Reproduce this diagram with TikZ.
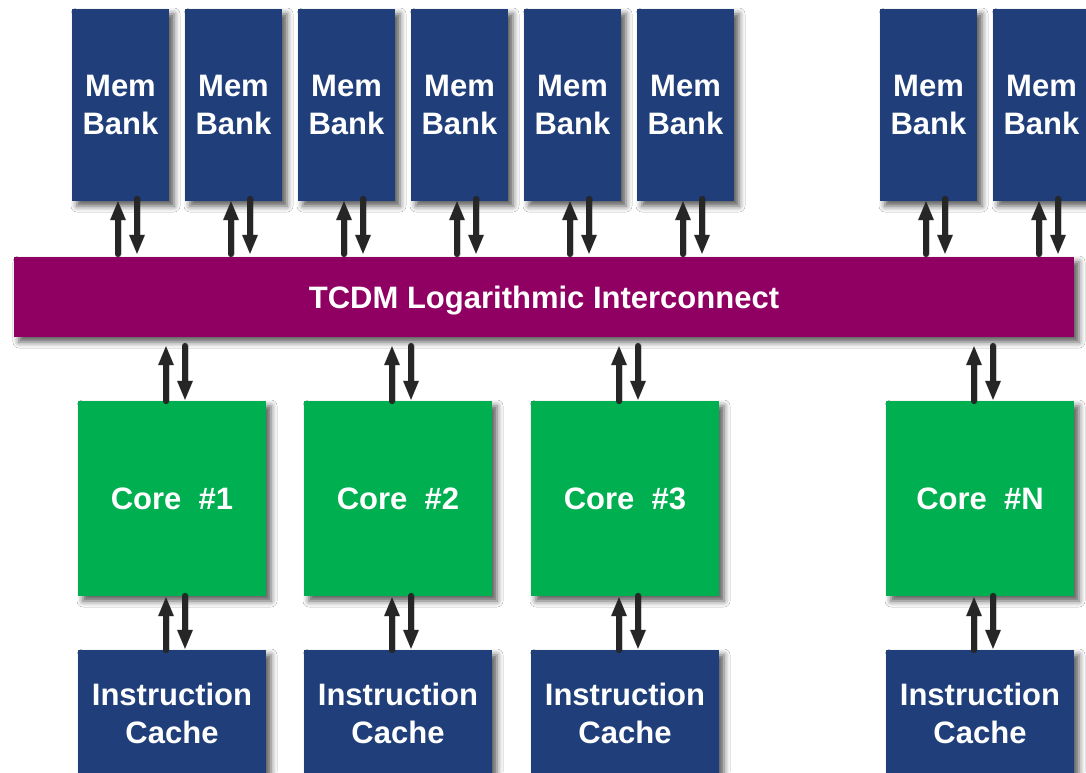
\documentclass[tikz,border=0pt]{standalone}
\usepackage{fontspec}
\setmainfont{Liberation Sans}
\usetikzlibrary{arrows.meta,shadows.blur,calc}
\definecolor{bankblue}{HTML}{203F7A}
\definecolor{coregreen}{HTML}{00AF50}
\definecolor{icpurple}{HTML}{900063}
\definecolor{arrowgray}{HTML}{262626}
\begin{document}
\begin{tikzpicture}[x=1pt,y=-1pt,
  box/.style={draw=none, inner sep=0pt, align=center, text=white,
    font=\bfseries\fontsize{31}{38}\selectfont,
    blur shadow={shadow xshift=5pt, shadow yshift=-5pt, shadow blur radius=6pt, shadow opacity=65}},
  bank/.style={box, fill=bankblue, minimum width=97pt, minimum height=192pt},
  core/.style={box, fill=coregreen, minimum width=188pt, minimum height=195pt},
  cache/.style={box, fill=bankblue, minimum width=188pt, minimum height=126pt},
  bus/.style={box, fill=icpurple, minimum width=1060pt, minimum height=80pt, text height=22pt, text depth=0pt},
  link/.style={draw=arrowgray, line width=6.5pt, line cap=round, -{Triangle[width=14pt,length=20pt]}},
  linkshadow/.style={draw=black, draw opacity=.2, fill opacity=.2, line width=7pt, line cap=round, -{Triangle[width=15pt,length=20pt]}}
]
\useasboundingbox (0,0) rectangle (1086,772);
\clip (0,0) rectangle (1086,772);
\fill[white] (0,0) rectangle (1086,772);

% memory banks
\node[bank] (b1) at (120.5,105) {Mem\\Bank};
\node[bank] (b2) at (233.5,105) {Mem\\Bank};
\node[bank] (b3) at (346.5,105) {Mem\\Bank};
\node[bank] (b4) at (459.5,105) {Mem\\Bank};
\node[bank] (b5) at (572.5,105) {Mem\\Bank};
\node[bank] (b6) at (685.5,105) {Mem\\Bank};
\node[bank] (b7) at (928.5,105) {Mem\\Bank};
\node[bank] (b8) at (1041.5,105) {Mem\\Bank};

% interconnect
\node[bus] (ic) at (544,297) {TCDM Logarithmic Interconnect};

% cores
\node[core] (c1) at (172,498.5) {Core\ \ \#1};
\node[core] (c2) at (398,498.5) {Core\ \ \#2};
\node[core] (c3) at (625,498.5) {Core\ \ \#3};
\node[core] (c4) at (980,498.5) {Core\ \ \#N};

% caches
\node[cache] (k1) at (172,713) {Instruction\\Cache};
\node[cache] (k2) at (398,713) {Instruction\\Cache};
\node[cache] (k3) at (625,713) {Instruction\\Cache};
\node[cache] (k4) at (980,713) {Instruction\\Cache};

% bank <-> interconnect
\foreach \b in {b1,b2,b3,b4,b5,b6,b7,b8}{
  \begin{scope}[shift={(2.5,2.5)}]
    \draw[linkshadow] ($(\b.south |- ic.north)+(-2.5,-3)$) -- ($(\b.south)+(-2.5,-1)$);
    \draw[linkshadow] ($(\b.south)+(16.5,-2)$) -- ($(\b.south |- ic.north)+(16.5,-2)$);
  \end{scope}
  \draw[link] ($(\b.south |- ic.north)+(-2.5,-3)$) -- ($(\b.south)+(-2.5,-1)$);
  \draw[link] ($(\b.south)+(16.5,-2)$) -- ($(\b.south |- ic.north)+(16.5,-2)$);
}

% interconnect <-> cores, cores <-> caches
\foreach \c/\k in {c1/k1,c2/k2,c3/k3,c4/k4}{
  \begin{scope}[shift={(2.5,2.5)}]
    \draw[linkshadow] ($(\c.north)+(-6,0)$) -- ($(\c.north |- ic.south)+(-6,8)$);
    \draw[linkshadow] ($(\c.north |- ic.south)+(13,9)$) -- ($(\c.north)+(13,0)$);
    \draw[linkshadow] ($(\k.north)+(-6,0)$) -- ($(\c.south)+(-6,0)$);
    \draw[linkshadow] ($(\c.south)+(13,0)$) -- ($(\k.north)+(13,0)$);
  \end{scope}
  \draw[link] ($(\c.north)+(-6,0)$) -- ($(\c.north |- ic.south)+(-6,8)$);
  \draw[link] ($(\c.north |- ic.south)+(13,9)$) -- ($(\c.north)+(13,0)$);
  \draw[link] ($(\k.north)+(-6,0)$) -- ($(\c.south)+(-6,0)$);
  \draw[link] ($(\c.south)+(13,0)$) -- ($(\k.north)+(13,0)$);
}
\end{tikzpicture}
\end{document}
